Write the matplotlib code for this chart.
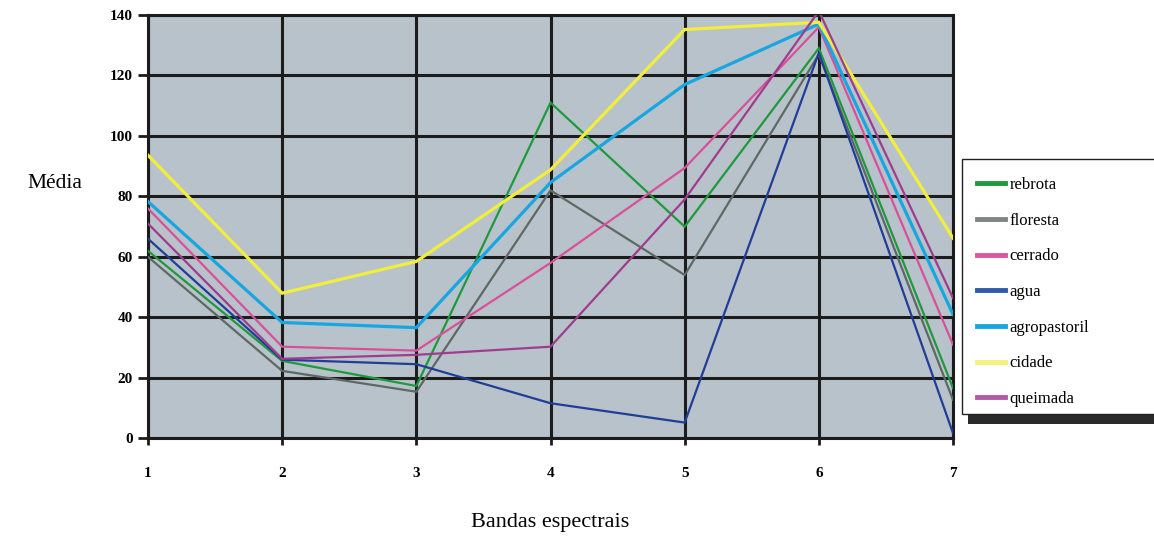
import matplotlib
matplotlib.use("Agg")
import matplotlib.pyplot as plt
from matplotlib.patches import Rectangle

# Spectral bands and mean values per land-cover class
bandas = [1, 2, 3, 4, 5, 6, 7]
rebrota = [62, 25.6, 17.3, 111, 70, 129, 16.6]
floresta = [60, 22.3, 15.4, 82, 54, 127, 12.7]
cerrado = [76, 30.3, 29, 58, 89.4, 136, 31]
agua = [66, 26, 24.5, 11.6, 5.2, 127.5, 1.7]
agropastoril = [78.3, 38.3, 36.6, 84.6, 117, 137, 41]
cidade = [93.6, 48, 58.5, 88.8, 135.2, 137.6, 66.2]
queimada = [71, 26.3, 27.6, 30.3, 79, 141.3, 46.4]

nomes = ["rebrota", "floresta", "cerrado", "agua", "agropastoril", "cidade", "queimada"]
series = [rebrota, floresta, cerrado, agua, agropastoril, cidade, queimada]
cores = ["#1E9A3C", "#5E6864", "#D9509A", "#203E98", "#18A6E0", "#F2EE3A", "#A03C8E"]
cores_legenda = ["#1E9A3C", "#7E8684", "#E0559F", "#2E5AA8", "#18A6E0", "#F4F27A", "#B35AA6"]
larguras = [1.6, 1.6, 1.6, 1.6, 2.3, 2.3, 1.6]

yticks = [0, 20, 40, 60, 80, 100, 120, 140]

W, H = 1154, 539
fig = plt.figure(figsize=(W / 100, H / 100), dpi=100)
fig.patch.set_facecolor("white")

ax = fig.add_axes([148 / W, 1 - 438.3 / H, (953 - 148) / W, (438.3 - 15) / H])
ax.set_facecolor("#B8C2CA")

for vals, c, lw in zip(series, cores, larguras):
    ax.plot(bandas, vals, color=c, lw=lw, solid_joinstyle="miter", zorder=3)

ax.set_xlim(1, 7)
ax.set_ylim(0, 140)
ax.set_xticks(bandas)
ax.set_yticks(yticks)
ax.grid(True, color="#1c1c1c", lw=2.2, zorder=1)
ax.set_axisbelow(True)
for s in ax.spines.values():
    s.set_color("#1c1c1c")
    s.set_linewidth(2.2)

ax.tick_params(axis="x", length=5, width=2, color="#1c1c1c", pad=16)
ax.tick_params(axis="y", length=7, width=2, color="#1c1c1c", pad=4)
for lab in ax.get_xticklabels() + ax.get_yticklabels():
    lab.set_fontfamily("Liberation Serif")
    lab.set_fontweight("bold")
    lab.set_fontsize(11)

fig.text(55 / W, 1 - 183 / H, "Média", family="Liberation Serif", size=15.5,
         ha="center", va="center")
fig.text(550 / W, 1 - 522 / H, "Bandas espectrais", family="Liberation Serif",
         size=16, ha="center", va="center")

# Legend box with shadow along the bottom edge
fig.patches.append(Rectangle((968 / W, 1 - 424 / H), (1170 - 968) / W, 11 / H,
                             transform=fig.transFigure, facecolor="#2a2a2a",
                             edgecolor="none", zorder=4))
fig.patches.append(Rectangle((962 / W, 1 - 414 / H), (1170 - 962) / W, (414 - 159) / H,
                             transform=fig.transFigure, facecolor="white",
                             edgecolor="#222222", lw=1.0, zorder=5))

handles = [plt.Line2D([], [], color=c, lw=3.5) for c in cores_legenda]
leg = fig.legend(handles, nomes, loc="upper left",
                 bbox_to_anchor=(977 / W, 1 - 177 / H), frameon=False,
                 prop=dict(family="Liberation Serif", size=12),
                 handlelength=1.7, handletextpad=0.25, labelspacing=1.18,
                 borderpad=0, borderaxespad=0)
leg.set_zorder(6)

fig.savefig("out.png", dpi=100)
